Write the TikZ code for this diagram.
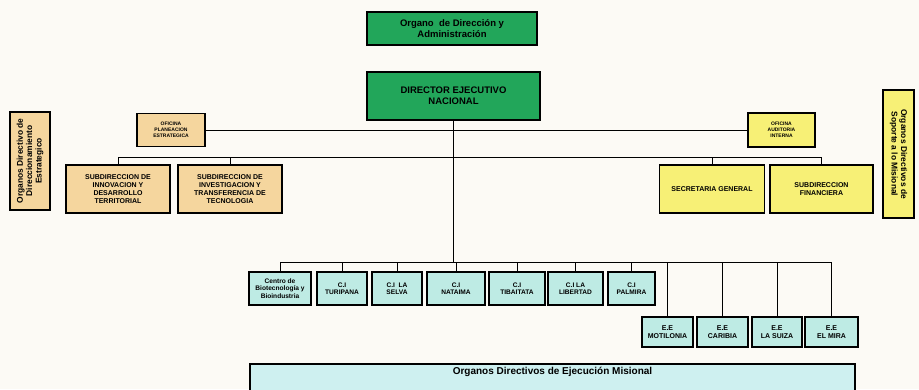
\documentclass[tikz,border=0pt]{standalone}
\usepackage{fontspec}
\setmainfont{Liberation Sans}
\definecolor{paper}{RGB}{252,250,245}
\definecolor{dirgreen}{RGB}{34,166,90}
\definecolor{tan}{RGB}{245,214,158}
\definecolor{yel}{RGB}{247,240,118}
\definecolor{cian}{RGB}{190,235,228}
\definecolor{cianlt}{RGB}{206,240,240}
\tikzset{
  unit/.style={draw=black, line width=1.6pt, align=center, inner sep=1pt,
    font=\bfseries\fontsize{7}{7.8}\selectfont},
  greenbox/.style={unit, fill=dirgreen, font=\bfseries\fontsize{9.5}{11}\selectfont},
  tanbox/.style={unit, fill=tan},
  yelbox/.style={unit, fill=yel},
  officebox/.style={font=\bfseries\fontsize{5}{6}\selectfont},
  sidebox/.style={font=\bfseries\fontsize{8.4}{9.4}\selectfont},
  cibox/.style={unit, fill=cian, minimum height=33pt, font=\bfseries\fontsize{6.6}{7.4}\selectfont},
  eebox/.style={unit, fill=cian, minimum height=30pt},
  link/.style={draw=black, line width=0.9pt},
}
\begin{document}
\begin{tikzpicture}[x=1pt, y=-1pt]
\useasboundingbox[fill=paper] (0,0) rectangle (919,389);

% top management
\node[greenbox, minimum width=170pt, minimum height=33pt] (org) at (452,28.5)
  {Organo\ \ de Dirección y\\Administración};
\node[greenbox, minimum width=173pt, minimum height=48pt] (dir) at (453.5,96)
  {DIRECTOR EJECUTIVO\\NACIONAL};

% offices
\node[tanbox, officebox, minimum width=68pt, minimum height=33pt] (ofplan) at (171,130)
  {OFICINA\\PLANEACION\\ESTRATEGICA};
\node[yelbox, officebox, minimum width=67pt, minimum height=34pt] (ofaud) at (781.5,130)
  {OFICINA\\AUDITORIA\\INTERNA};

% subdirections
\node[tanbox, minimum width=104pt, minimum height=48pt] (subinn) at (118,189)
  {SUBDIRECCION DE\\INNOVACION Y\\DESARROLLO\\TERRITORIAL};
\node[tanbox, minimum width=104pt, minimum height=48pt] (subinv) at (230,189)
  {SUBDIRECCION DE\\INVESTIGACION Y\\TRANSFERENCIA DE\\TECNOLOGIA};
\node[yelbox, minimum width=105pt, minimum height=48pt] (secgen) at (712,189)
  {SECRETARIA GENERAL};
\node[yelbox, minimum width=103pt, minimum height=48pt] (subfin) at (821.5,189)
  {SUBDIRECCION\\FINANCIERA};

% side group labels
\node[tanbox, sidebox, minimum width=98pt, minimum height=40pt, rotate=90] (grpest) at (30,161)
  {Organos Directivo de\\Direccionamiento\\Estrategico};
\node[yelbox, sidebox, minimum width=128pt, minimum height=31pt, rotate=-90] (grpsop) at (898.5,154)
  {Organos Directivos de\\Soporte a lo Misional};

% research centres
\node[cibox, minimum width=62pt] (cbio) at (280,288.5)
  {Centro de\\Biotecnología y\\Bioindustria};
\node[cibox, minimum width=50pt] (turi) at (342,288.5) {C.I\\TURIPANA};
\node[cibox, minimum width=50pt] (selva) at (397,288.5) {C.I\ \ LA\\SELVA};
\node[cibox, minimum width=58pt] (nata) at (456,288.5) {C.I\\NATAIMA};
\node[cibox, minimum width=56pt] (tiba) at (517,288.5) {C.I\\TIBAITATA};
\node[cibox, minimum width=55pt] (libe) at (575.5,288.5) {C.I LA\\LIBERTAD};
\node[cibox, minimum width=47pt] (palm) at (631.5,288.5) {C.I\\PALMIRA};

% experimental stations
\node[eebox, minimum width=51pt] (moti) at (667.5,332) {E.E\\MOTILONIA};
\node[eebox, minimum width=51pt] (cari) at (722.5,332) {E.E\\CARIBIA};
\node[eebox, minimum width=50pt] (suiza) at (777,332) {E.E\\LA SUIZA};
\node[eebox, minimum width=53pt] (mira) at (831.5,332) {E.E\\EL MIRA};

% execution group label
\node[unit, fill=cianlt, minimum width=605pt, minimum height=34pt,
  anchor=north, text depth=20pt, font=\bfseries\fontsize{10}{11}\selectfont]
  (grpeje) at (552.5,363) {Organos Directivos de Ejecución Misional};

% connectors
\coordinate (busA) at (0,157);
\coordinate (busB) at (0,262);
\draw[link] (ofplan.east) -- (ofaud.west);
\draw[link] (subinn.north) -- (subinn.north |- busA) -| (subfin.north);
\draw[link] (subinv.north) -- (subinv.north |- busA);
\draw[link] (secgen.north) -- (secgen.north |- busA);
\draw[link] (dir.south) -- (dir.south |- busB);
\draw[link] (cbio.north) -- (cbio.north |- busB) -| (mira.north);
\foreach \n in {turi,selva,nata,tiba,libe,palm,moti,cari,suiza}
  \draw[link] (\n.north) -- (\n.north |- busB);
\end{tikzpicture}
\end{document}
